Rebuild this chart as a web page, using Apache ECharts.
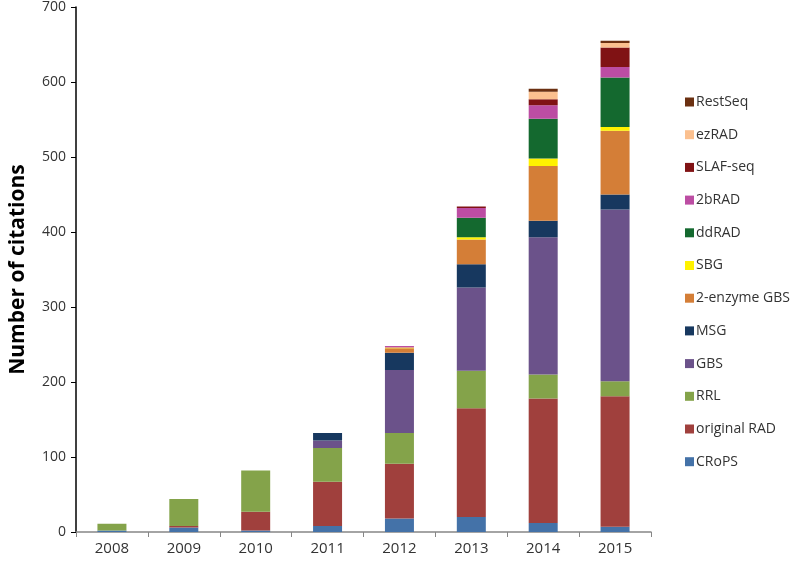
<!DOCTYPE html>
<html>
<head>
<meta charset="utf-8">
<script src="https://cdn.jsdelivr.net/npm/echarts@6/dist/echarts.min.js"></script>
<style>html,body{margin:0;padding:0;background:#fff;}#c{width:800px;height:562px;}</style>
</head>
<body>
<div id="c"></div>
<script>
var years = ['2008','2009','2010','2011','2012','2013','2014','2015'];
var yTicks = [0,100,200,300,400,500,600,700];
var seriesNames = ['CRoPS','original RAD','RRL','GBS','MSG','2-enzyme GBS','SBG','ddRAD','2bRAD','SLAF-seq','ezRAD','RestSeq'];
var CRoPS       = [2, 6, 2, 8, 18, 20, 12, 7];
var originalRAD = [0, 2, 25, 59, 73, 145, 166, 174];
var RRL         = [9, 36, 55, 45, 41, 50, 32, 20];
var GBS         = [0, 0, 0, 10, 84, 111, 183, 229];
var MSG         = [0, 0, 0, 10, 23, 31, 22, 20];
var enzyme2GBS  = [0, 0, 0, 0, 6, 33, 73, 85];
var SBG         = [0, 0, 0, 0, 1, 3, 10, 5];
var ddRAD       = [0, 0, 0, 0, 0, 26, 53, 66];
var b2RAD       = [0, 0, 0, 0, 2, 13, 18, 14];
var SLAFseq     = [0, 0, 0, 0, 0, 2, 8, 26];
var ezRAD       = [0, 0, 0, 0, 0, 0, 10, 6];
var RestSeq     = [0, 0, 0, 0, 0, 0, 4, 3];
var colors = ['#4472A8','#A0403D','#84A34A','#6B528A','#17385F','#D47E37','#FFF200','#14692F','#BC4DA3','#801214','#FBC08F','#6B3011'];

var values = [CRoPS, originalRAD, RRL, GBS, MSG, enzyme2GBS, SBG, ddRAD, b2RAD, SLAFseq, ezRAD, RestSeq];
var series = seriesNames.map(function(n, i){
  return {
    name: n, type: 'bar', stack: 'total', data: values[i],
    barWidth: 29, itemStyle: {color: colors[i]}
  };
});
var font = '"Open Sans", "Liberation Sans", sans-serif';
var chart = echarts.init(document.getElementById('c'), null, {renderer: 'canvas'});
chart.setOption({
  animation: false,
  backgroundColor: '#ffffff',
  color: colors,
  grid: {left: 74, right: 149, top: 7, bottom: 30, containLabel: false},
  legend: {
    orient: 'vertical', left: 680, top: 89,
    data: seriesNames.slice().reverse(),
    itemWidth: 9, itemHeight: 9, itemGap: 16.7, icon: 'rect',
    textStyle: {fontFamily: font, fontSize: 14, color: '#333', lineHeight: 16, padding: [0,0,0,-3]}
  },
  xAxis: {
    type: 'category', data: years,
    axisLine: {lineStyle: {color: '#868686', width: 1.5}},
    axisTick: {show: true, length: 5, lineStyle: {color: '#868686'}},
    axisLabel: {fontFamily: font, fontSize: 15, color: '#333', margin: 9}
  },
  yAxis: {
    type: 'value', min: 0, max: 700, interval: 100,
    name: 'Number of citations', nameLocation: 'middle', nameGap: 47,
    nameTextStyle: {fontFamily: font, fontSize: 21, fontWeight: 'bold', color: '#000'},
    axisLine: {show: true, lineStyle: {color: '#000', width: 1.5}},
    axisTick: {show: true, length: 5, lineStyle: {color: '#000'}},
    splitLine: {show: false},
    axisLabel: {fontFamily: font, fontSize: 14, color: '#333', margin: 10,
      formatter: function(v){ return yTicks.indexOf(v) >= 0 ? String(v) : ''; }}
  },
  series: series
});
</script>
</body>
</html>
